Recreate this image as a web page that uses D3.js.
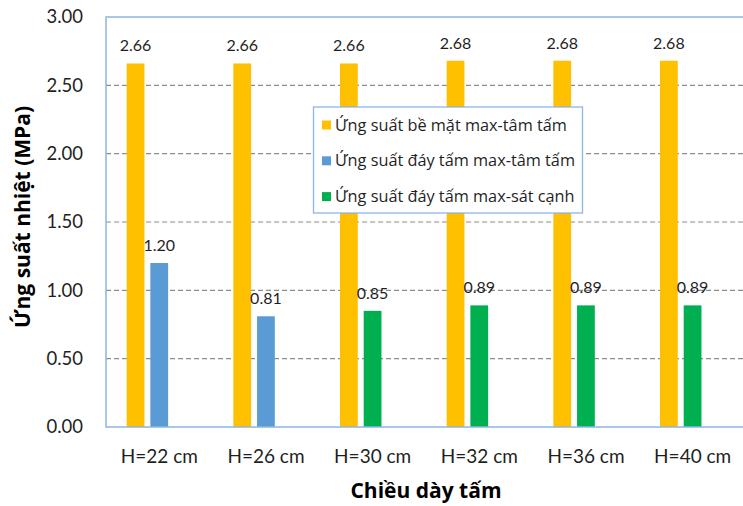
<!DOCTYPE html>
<html>
<head>
<meta charset="utf-8">
<script src="https://cdn.jsdelivr.net/npm/d3@7"></script>
<style>
  html, body { margin: 0; padding: 0; background: #fff; }
  svg { display: block; font-family: Lato, "Open Sans", sans-serif; }
</style>
</head>
<body>
<svg id="chart" width="743" height="506"></svg>
<script>
// Plate thickness cases
const categories = ["H=22 cm", "H=26 cm", "H=30 cm", "H=32 cm", "H=36 cm", "H=40 cm"];
// Max surface stress at plate centre (MPa)
const surfaceCenter = [2.66, 2.66, 2.66, 2.68, 2.68, 2.68];
// Max bottom stress at plate centre (MPa)
const bottomCenter = [1.20, 0.81, null, null, null, null];
// Max bottom stress near the edge (MPa)
const bottomEdge = [null, null, 0.85, 0.89, 0.89, 0.89];
// Y axis ticks
const yTicks = [0, 0.5, 1.0, 1.5, 2.0, 2.5, 3.0];

const seriesNames = [
  "Ứng suất bề mặt max-tâm tấm",
  "Ứng suất đáy tấm max-tâm tấm",
  "Ứng suất đáy tấm max-sát cạnh"
];
const seriesColors = ["#FFC000", "#5B9BD5", "#00B050"];

const svg = d3.select("#chart");
const plot = { left: 106, top: 17, right: 746, bottom: 427 };

const x0 = d3.scaleBand().domain(categories).range([plot.left, plot.right]).padding(0);
// two bar slots per thickness: surface stress and bottom stress
const x1 = d3.scaleBand().domain(["surface", "bottom"]).range([0, x0.bandwidth()])
  .paddingInner(0.25).paddingOuter(1.375).align(0.317);
const y = d3.scaleLinear().domain([0, 3]).range([plot.bottom, plot.top]);

// dashed gridlines
svg.append("g").selectAll("line")
  .data(yTicks.filter(t => t > 0 && t < 3))
  .join("line")
  .attr("x1", plot.left).attr("x2", plot.right)
  .attr("y1", d => y(d)).attr("y2", d => y(d))
  .attr("stroke", "#8c8c8c").attr("stroke-width", 1.2)
  .attr("stroke-dasharray", "5,3");

// bars
const rows = categories.map((c, i) => ({
  cat: c,
  surface: surfaceCenter[i],
  bottom: bottomCenter[i] != null ? bottomCenter[i] : bottomEdge[i],
  bottomColor: bottomCenter[i] != null ? seriesColors[1] : seriesColors[2]
}));

const bars = [];
rows.forEach(r => {
  bars.push({ cat: r.cat, slot: "surface", v: r.surface, color: seriesColors[0] });
  bars.push({ cat: r.cat, slot: "bottom", v: r.bottom, color: r.bottomColor });
});

svg.append("g").selectAll("rect")
  .data(bars)
  .join("rect")
  .attr("x", d => x0(d.cat) + x1(d.slot))
  .attr("width", x1.bandwidth())
  .attr("y", d => y(d.v))
  .attr("height", d => y(0) - y(d.v))
  .attr("fill", d => d.color);

// value labels
svg.append("g").selectAll("text")
  .data(bars)
  .join("text")
  .attr("x", d => x0(d.cat) + x1(d.slot) + x1.bandwidth() / 2)
  .attr("y", d => y(d.v) - 12)
  .attr("text-anchor", "middle")
  .attr("font-size", 16)
  .attr("fill", "#1f1f1f")
  .text(d => d.v.toFixed(2));

// plot border
svg.append("rect")
  .attr("x", plot.left).attr("y", plot.top)
  .attr("width", plot.right - plot.left).attr("height", plot.bottom - plot.top)
  .attr("fill", "none").attr("stroke", "#8EB4E3").attr("stroke-width", 1.5);

// y axis
const yAxis = svg.append("g")
  .attr("transform", `translate(${plot.left},0)`)
  .call(d3.axisLeft(y).tickValues(yTicks).tickFormat(d3.format(".2f")).tickSize(0).tickPadding(23));
yAxis.select(".domain").remove();
yAxis.selectAll("text")
  .attr("font-family", "Lato, sans-serif")
  .attr("font-size", 18.5)
  .attr("fill", "#1f1f1f");

// x axis
const xAxis = svg.append("g")
  .attr("transform", `translate(0,${plot.bottom})`)
  .call(d3.axisBottom(x0).tickSize(0));
xAxis.select(".domain").remove();
xAxis.selectAll("text")
  .attr("font-family", "Lato, sans-serif")
  .attr("font-size", 19)
  .attr("fill", "#1f1f1f")
  .attr("dy", null)
  .attr("y", 36);

// axis titles
svg.append("text")
  .attr("transform", "translate(30,217) rotate(-90)")
  .attr("text-anchor", "middle")
  .attr("font-family", "'Open Sans', sans-serif")
  .attr("font-size", 21)
  .attr("font-weight", "bold")
  .attr("fill", "#000")
  .text("Ứng suất nhiệt (MPa)");

svg.append("text")
  .attr("x", 426).attr("y", 498)
  .attr("text-anchor", "middle")
  .attr("font-family", "'Open Sans', sans-serif")
  .attr("font-size", 21)
  .attr("font-weight", "bold")
  .attr("fill", "#000")
  .text("Chiều dày tấm");

// legend
const legend = svg.append("g").attr("transform", "translate(313.5,107)");
legend.append("rect")
  .attr("width", 269).attr("height", 106)
  .attr("fill", "#fff").attr("stroke", "#8EB4E3").attr("stroke-width", 1.3);
const item = legend.selectAll("g.item")
  .data(seriesNames)
  .join("g")
  .attr("class", "item")
  .attr("transform", (d, i) => `translate(0,${18 + i * 35.8})`);
item.append("rect")
  .attr("x", 8.5).attr("y", -4.5).attr("width", 9).attr("height", 9)
  .attr("fill", (d, i) => seriesColors[i]);
item.append("text")
  .attr("x", 21.5).attr("y", 5.5)
  .attr("font-family", "'Open Sans', sans-serif")
  .attr("font-size", 16.3)
  .attr("fill", "#1f1f1f")
  .text(d => d);
</script>
</body>
</html>
